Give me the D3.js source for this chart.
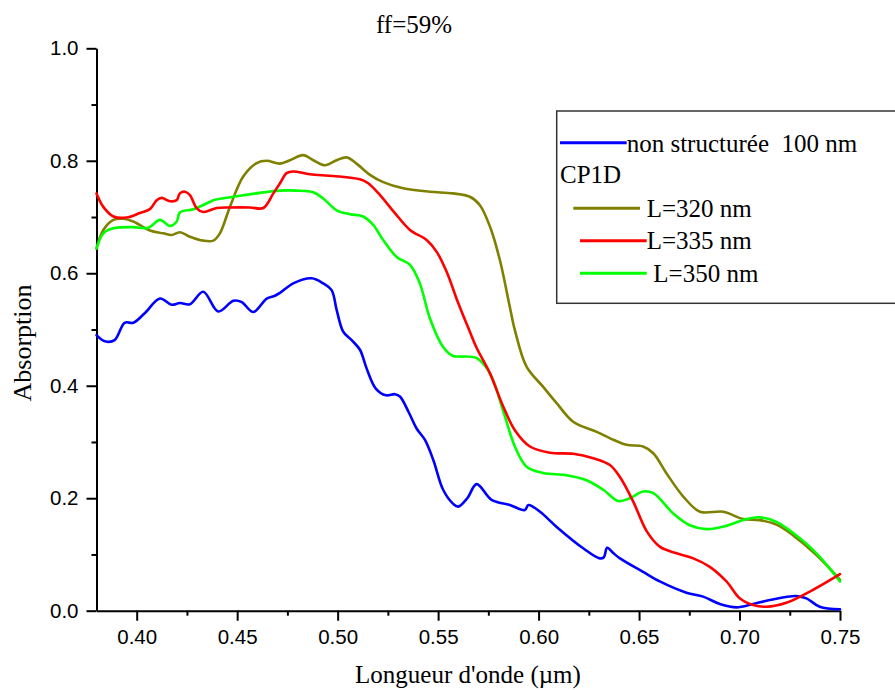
<!DOCTYPE html>
<html>
<head>
<meta charset="utf-8">
<script src="https://cdn.jsdelivr.net/npm/d3@7"></script>
<style>
  html, body { margin: 0; padding: 0; background: #fff; }
  svg { display: block; }
  text { white-space: pre; }
</style>
</head>
<body>
<svg id="chart" width="895" height="690"></svg>
<script>
// Absorption spectra, ff = 59 %
const chartTitle = "ff=59%";
const xLabel = "Longueur d'onde (\u00b5m)";
const yLabel = "Absorption";

const xMajorTicks = [0.40, 0.45, 0.50, 0.55, 0.60, 0.65, 0.70, 0.75];
const xMinorTicks = [0.425, 0.475, 0.525, 0.575, 0.625, 0.675, 0.725];
const yMajorTicks = [0.0, 0.2, 0.4, 0.6, 0.8, 1.0];
const yMinorTicks = [0.1, 0.3, 0.5, 0.7, 0.9];

// unstructured layer, 100 nm
const wlFlat = [0.380,0.3842,0.389,0.394,0.3983,0.404,0.4116,0.4174,0.4215,0.4265,0.4331,0.4406,0.4481,0.4522,0.458,0.4647,0.4688,0.4713,0.4779,0.4871,0.4928,0.497,0.4995,0.5028,0.507,0.5111,0.5145,0.519,0.524,0.5285,0.531,0.5355,0.5393,0.5434,0.5476,0.5525,0.5575,0.560,0.5645,0.5692,0.5766,0.5857,0.5932,0.5949,0.6007,0.609,0.6222,0.6305,0.6325,0.6341,0.637,0.6405,0.652,0.6603,0.6736,0.6819,0.6902,0.6985,0.7068,0.7151,0.7283,0.7333,0.7399,0.75];
const absFlat = [0.490,0.479,0.481,0.512,0.512,0.529,0.555,0.544,0.547,0.545,0.567,0.532,0.551,0.549,0.531,0.555,0.560,0.565,0.582,0.591,0.582,0.570,0.535,0.496,0.481,0.464,0.430,0.395,0.383,0.385,0.381,0.352,0.324,0.304,0.268,0.215,0.190,0.185,0.200,0.225,0.197,0.188,0.179,0.188,0.176,0.149,0.111,0.093,0.095,0.112,0.103,0.093,0.069,0.052,0.032,0.025,0.012,0.006,0.012,0.019,0.026,0.022,0.007,0.0025];

// CP1D, L = 320 nm
const wl320 = [0.380,0.3834,0.3884,0.3933,0.3983,0.4066,0.4132,0.4174,0.4215,0.4265,0.4331,0.4381,0.4414,0.4464,0.453,0.4597,0.4647,0.4713,0.4763,0.4829,0.4879,0.4937,0.4995,0.5045,0.5094,0.5161,0.5227,0.5326,0.5459,0.5575,0.5658,0.5708,0.5758,0.5807,0.5857,0.5882,0.594,0.6023,0.609,0.6172,0.6289,0.6372,0.6438,0.652,0.6571,0.6637,0.672,0.6803,0.6919,0.7018,0.7101,0.7184,0.7267,0.7383,0.75];
const abs320 = [0.644,0.677,0.695,0.697,0.692,0.676,0.671,0.668,0.673,0.665,0.658,0.658,0.671,0.718,0.772,0.796,0.800,0.795,0.801,0.810,0.801,0.792,0.801,0.806,0.795,0.775,0.762,0.751,0.745,0.742,0.736,0.721,0.683,0.624,0.540,0.499,0.434,0.398,0.369,0.336,0.318,0.304,0.295,0.292,0.280,0.244,0.203,0.176,0.176,0.163,0.161,0.153,0.134,0.099,0.055];

// CP1D, L = 335 nm
const wl335 = [0.380,0.3834,0.3884,0.395,0.4016,0.4066,0.410,0.4124,0.4166,0.4199,0.4215,0.424,0.4265,0.4298,0.4331,0.4398,0.4464,0.4564,0.463,0.468,0.4713,0.4746,0.4779,0.4862,0.4978,0.5111,0.5152,0.5211,0.5285,0.536,0.5443,0.5493,0.5542,0.560,0.5658,0.5692,0.5758,0.5824,0.5882,0.5957,0.6056,0.6172,0.6272,0.6355,0.6404,0.6471,0.6537,0.6603,0.6687,0.677,0.6852,0.6935,0.7001,0.7068,0.7134,0.7233,0.735,0.75];
const abs335 = [0.742,0.718,0.701,0.699,0.707,0.714,0.730,0.734,0.728,0.730,0.742,0.745,0.739,0.716,0.709,0.716,0.717,0.717,0.716,0.742,0.760,0.778,0.781,0.776,0.773,0.767,0.760,0.739,0.707,0.677,0.659,0.638,0.603,0.547,0.496,0.467,0.422,0.363,0.321,0.292,0.281,0.279,0.271,0.259,0.238,0.194,0.142,0.114,0.102,0.093,0.078,0.052,0.022,0.010,0.007,0.014,0.034,0.065];

// CP1D, L = 350 nm
const wl350 = [0.380,0.3834,0.3884,0.3983,0.4058,0.4116,0.4166,0.4199,0.4215,0.4282,0.4365,0.4381,0.4481,0.4613,0.4713,0.4796,0.4879,0.4928,0.4995,0.5061,0.5127,0.5177,0.5227,0.5294,0.536,0.5409,0.5459,0.5525,0.5575,0.5608,0.5692,0.5758,0.5824,0.5882,0.594,0.6023,0.614,0.6239,0.6322,0.6396,0.6454,0.652,0.6571,0.667,0.6753,0.6836,0.6935,0.7035,0.7101,0.7184,0.7267,0.7383,0.75];
const abs350 = [0.644,0.671,0.680,0.682,0.681,0.695,0.684,0.692,0.708,0.714,0.727,0.730,0.736,0.743,0.747,0.747,0.744,0.733,0.712,0.705,0.701,0.686,0.659,0.629,0.615,0.582,0.520,0.469,0.453,0.452,0.449,0.422,0.355,0.292,0.256,0.245,0.241,0.232,0.215,0.195,0.200,0.212,0.209,0.173,0.152,0.145,0.151,0.163,0.166,0.158,0.138,0.102,0.052];

const series = [
  { name: "non structur\u00e9e  100 nm", wl: wlFlat, abs: absFlat, color: "#0000ff" },
  { name: "L=320 nm", wl: wl320, abs: abs320, color: "#808000" },
  { name: "L=350 nm", wl: wl350, abs: abs350, color: "#00ff00" },
  { name: "L=335 nm", wl: wl335, abs: abs335, color: "#ff0000" }
];

const serif = "'Liberation Serif', 'Times New Roman', serif";
const sans = "'Liberation Sans', Arial, sans-serif";

const svg = d3.select("#chart");
const plot = { left: 96.5, right: 840, top: 48.3, bottom: 610.7 };

const x = d3.scaleLinear().domain([0.38, 0.75]).range([plot.left, plot.right]);
const y = d3.scaleLinear().domain([0, 1]).range([plot.bottom, plot.top]);

// axes
function styleAxis(g) {
  g.select(".domain").attr("stroke", "#000").attr("stroke-width", 2);
  g.selectAll(".tick line").attr("stroke", "#000").attr("stroke-width", 2);
  g.selectAll(".tick text").attr("fill", "#000").style("font-family", sans).style("font-size", "20.5px");
}

const gx = svg.append("g").attr("transform", `translate(0,${plot.bottom})`)
  .call(d3.axisBottom(x).tickValues(xMajorTicks).tickFormat(d3.format(".2f"))
    .tickSize(10).tickSizeOuter(0).tickPadding(9));
styleAxis(gx);
const gxm = svg.append("g").attr("transform", `translate(0,${plot.bottom})`)
  .call(d3.axisBottom(x).tickValues(xMinorTicks).tickFormat("").tickSize(5).tickSizeOuter(0));
styleAxis(gxm);
gxm.select(".domain").remove();

const gy = svg.append("g").attr("transform", `translate(${plot.left},0)`)
  .call(d3.axisLeft(y).tickValues(yMajorTicks).tickFormat(d3.format(".1f"))
    .tickSize(10).tickSizeOuter(0).tickPadding(8));
styleAxis(gy);
const gym = svg.append("g").attr("transform", `translate(${plot.left},0)`)
  .call(d3.axisLeft(y).tickValues(yMinorTicks).tickFormat("").tickSize(5).tickSizeOuter(0));
styleAxis(gym);
gym.select(".domain").remove();

// curves
const line = d3.line()
  .x(d => x(d[0]))
  .y(d => y(d[1]))
  .curve(d3.curveCatmullRom.alpha(0.5));

series.forEach(s => {
  const pts = s.wl.map((w, i) => [w, s.abs[i]]);
  svg.append("path")
    .datum(pts)
    .attr("d", line)
    .attr("fill", "none")
    .attr("stroke", s.color)
    .attr("stroke-width", 2.6)
    .attr("stroke-linejoin", "round")
    .attr("stroke-linecap", "round");
});

// titles
svg.append("text").attr("x", 414).attr("y", 33).attr("text-anchor", "middle")
  .style("font-family", serif).style("font-size", "25px").text(chartTitle);
svg.append("text").attr("x", 468).attr("y", 683).attr("text-anchor", "middle")
  .style("font-family", serif).style("font-size", "25px").text(xLabel);
svg.append("text").attr("transform", "translate(31,343) rotate(-90)").attr("text-anchor", "middle")
  .style("font-family", serif).style("font-size", "26px").text(yLabel);

// legend
const legend = svg.append("g");
legend.append("rect").attr("x", 556.7).attr("y", 111).attr("width", 360).attr("height", 192.3)
  .attr("fill", "#fff").attr("stroke", "#333").attr("stroke-width", 1.5);

const legendRows = [
  { s: series[0], x1: 560, x2: 626.7, ly: 142.7, tx: 626.7, ty: 152.3 },
  { s: series[1], x1: 573.3, x2: 640, ly: 208.3, tx: 646.7, ty: 216.7 },
  { s: series[3], x1: 580, x2: 646.7, ly: 240.7, tx: 646.7, ty: 249 },
  { s: series[2], x1: 580, x2: 646.7, ly: 273.3, tx: 653.3, ty: 281.7 }
];
legendRows.forEach(r => {
  legend.append("line").attr("x1", r.x1).attr("x2", r.x2).attr("y1", r.ly).attr("y2", r.ly)
    .attr("stroke", r.s.color).attr("stroke-width", 3);
  legend.append("text").attr("x", r.tx).attr("y", r.ty)
    .style("font-family", serif).style("font-size", "25px").text(r.s.name);
});
legend.append("text").attr("x", 560).attr("y", 183.3)
  .style("font-family", serif).style("font-size", "25px").text("CP1D");
</script>
</body>
</html>
